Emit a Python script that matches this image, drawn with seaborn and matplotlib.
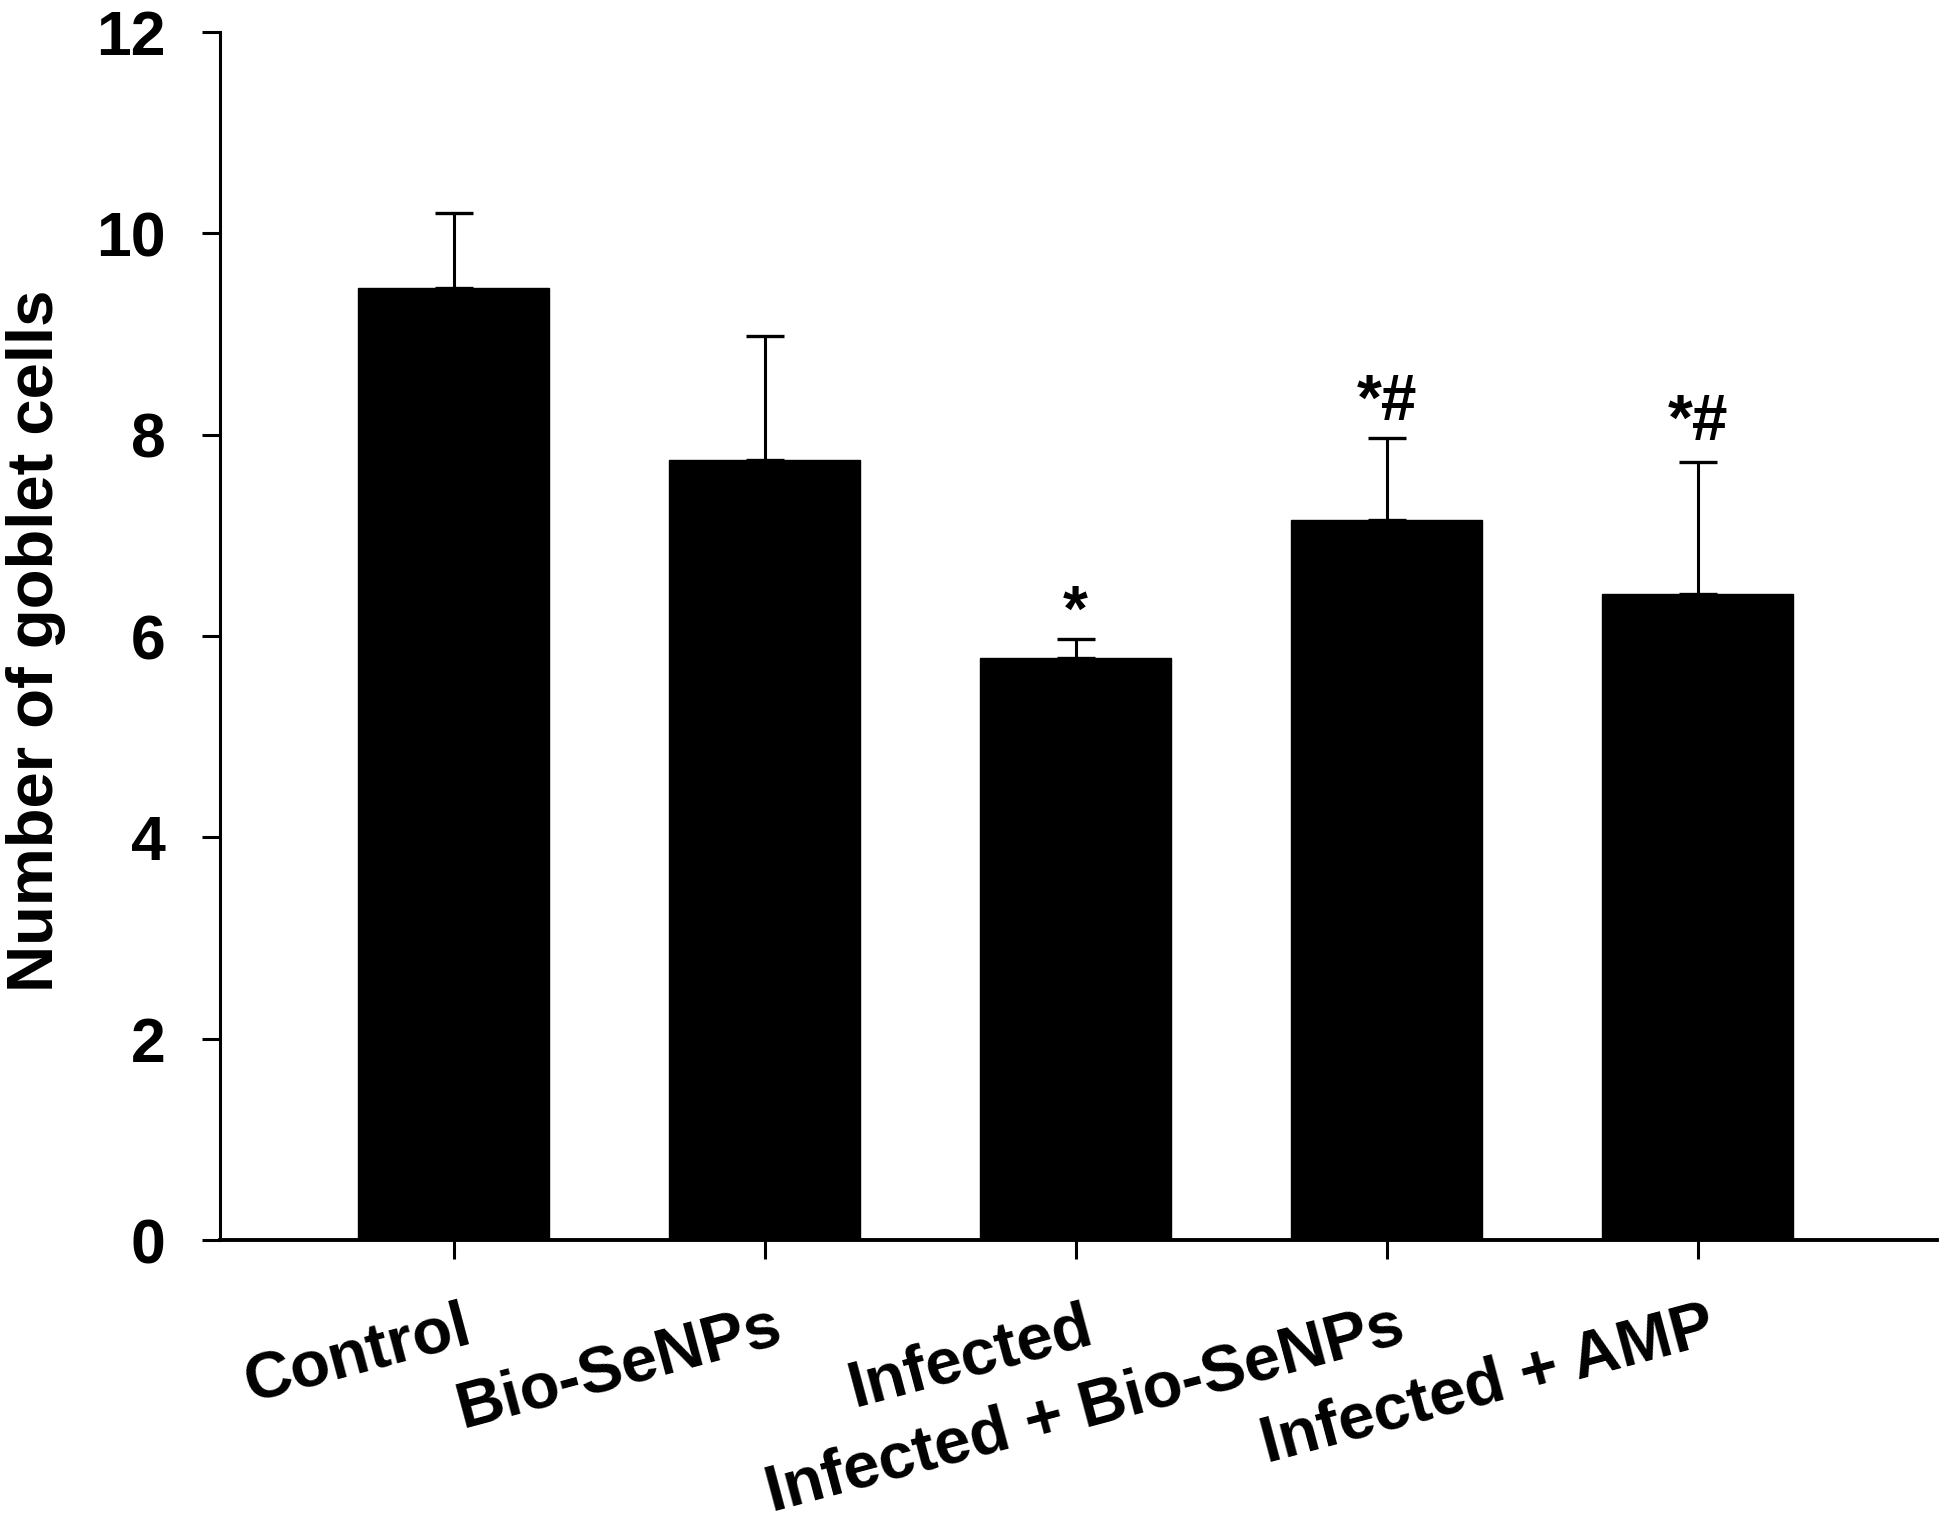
import numpy as np
import pandas as pd
import matplotlib
matplotlib.use("Agg")
import matplotlib.pyplot as plt
import matplotlib.transforms as mtransforms
import seaborn as sns

categories = ["Control", "Bio-SeNPs", "Infected", "Infected + Bio-SeNPs", "Infected + AMP"]
means = [9.46, 7.75, 5.78, 7.15, 6.42]
sems = [0.74, 1.23, 0.19, 0.82, 1.31]
annotations = ["", "", "*", "*#", "*#"]
annot_y = [None, None, 6.05, 8.15, 7.95]
yticks = [0, 2, 4, 6, 8, 10, 12]

sns.set_style("ticks")
plt.rcParams['font.family'] = ['Liberation Sans', 'DejaVu Sans']
plt.rcParams['font.weight'] = 'bold'
for k in ['text.color', 'axes.labelcolor', 'xtick.color', 'ytick.color', 'axes.edgecolor']:
    plt.rcParams[k] = 'black'

df = pd.DataFrame({"group": categories, "value": means})

fig = plt.figure(figsize=(19.49, 15.26), dpi=100)
ax = fig.add_axes([220/1949, 1 - 1240/1526, (1937-220)/1949, (1240-32)/1526])

sns.barplot(data=df, x="group", y="value", color="black", saturation=1,
            width=0.614, edgecolor="black", linewidth=1, ax=ax, errorbar=None)

x = np.arange(len(categories))
ax.errorbar(x, means, yerr=[np.zeros(len(sems)), sems], fmt="none",
            ecolor="black", elinewidth=2.2, capsize=13.5, capthick=2.4, zorder=3)

for xi, txt, ty in zip(x, annotations, annot_y):
    if txt:
        ax.text(xi, ty, txt, ha="center", va="baseline", fontsize=46,
                fontweight="bold", color="black")

ax.set_xlim(-0.752, 4.77)
ax.set_ylim(0, 12)
ax.set_yticks(yticks)
ax.set_yticklabels([str(t) for t in yticks], fontsize=45, fontweight="bold", color="black")

ax.set_xlabel("")
ax.set_xticks(x)
ax.set_xticklabels(categories, fontsize=47, fontweight="bold", rotation=15,
                   ha="right", va="baseline", rotation_mode="anchor", color="black")

ax.tick_params(axis="y", direction="out", length=13, width=2.2, pad=26, colors="black")
ax.tick_params(axis="x", direction="out", length=14, width=2.2, pad=59, colors="black")

offset = mtransforms.ScaledTranslation(0.20, 0, fig.dpi_scale_trans)
for lab in ax.get_xticklabels():
    lab.set_transform(lab.get_transform() + offset)

ax.set_ylabel("Number of goblet cells", fontsize=47, fontweight="bold", color="black")
ax.yaxis.set_label_coords(66/1949, 1 - 641/1526, transform=fig.transFigure)

for s in ["top", "right"]:
    ax.spines[s].set_visible(False)
ax.spines["left"].set_linewidth(2.2)
ax.spines["bottom"].set_linewidth(2.8)
ax.spines["left"].set_color("black")
ax.spines["bottom"].set_color("black")
ax.spines["left"].set_bounds(0, 12)

fig.savefig("out.png", dpi=100, facecolor="white")
